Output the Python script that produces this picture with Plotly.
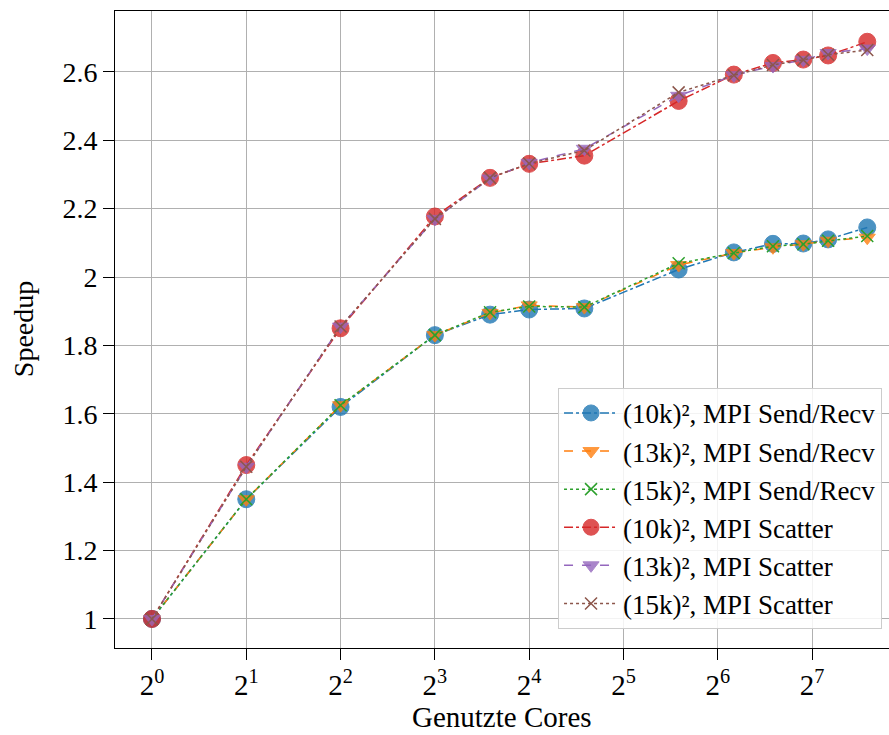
import plotly.graph_objects as go

cores = [1, 2, 4, 8, 12, 16, 24, 48, 72, 96, 120, 144, 192]

sr_10k = [1.0, 1.35, 1.62, 1.83, 1.89, 1.905, 1.908, 2.022, 2.072, 2.097, 2.098, 2.11, 2.145]
sr_13k = [1.0, 1.35, 1.625, 1.83, 1.895, 1.917, 1.912, 2.035, 2.07, 2.087, 2.096, 2.106, 2.115]
sr_15k = [1.0, 1.35, 1.625, 1.83, 1.897, 1.914, 1.912, 2.04, 2.07, 2.09, 2.096, 2.106, 2.12]
sc_10k = [1.0, 1.45, 1.85, 2.177, 2.29, 2.331, 2.355, 2.515, 2.592, 2.626, 2.636, 2.648, 2.688]
sc_13k = [1.0, 1.445, 1.855, 2.17, 2.288, 2.334, 2.375, 2.53, 2.59, 2.617, 2.635, 2.655, 2.668]
sc_15k = [1.0, 1.445, 1.855, 2.17, 2.29, 2.332, 2.37, 2.54, 2.59, 2.62, 2.635, 2.65, 2.664]

names = ["(10k)², MPI Send/Recv", "(13k)², MPI Send/Recv", "(15k)², MPI Send/Recv",
         "(10k)², MPI Scatter", "(13k)², MPI Scatter", "(15k)², MPI Scatter"]
series = [sr_10k, sr_13k, sr_15k, sc_10k, sc_13k, sc_15k]
colors = ["#1f77b4", "#ff7f0e", "#2ca02c", "#d62728", "#9467bd", "#8c564b"]
dashes = ["dashdot", "dash", "dot", "dashdot", "dash", "dot"]
symbols = ["circle", "triangle-down", "x-thin", "circle", "triangle-down", "x-thin"]
sizes = [17, 14, 12, 17, 14, 12]

xtick_vals = [1, 2, 4, 8, 16, 32, 64, 128]
xtick_text = ["2<sup>%d</sup>" % i for i in range(8)]
ytick_vals = [1, 1.2, 1.4, 1.6, 1.8, 2, 2.2, 2.4, 2.6]
ytick_text = ["1", "1.2", "1.4", "1.6", "1.8", "2", "2.2", "2.4", "2.6"]
x_title = "Genutzte Cores"
y_title = "Speedup"

FONT = "Liberation Serif"

fig = go.Figure()
for name, ys, c, d, s, sz in zip(names, series, colors, dashes, symbols, sizes):
    if s == "x-thin":
        marker = dict(symbol=s, size=sz, color=c, line=dict(color=c, width=1.5))
    else:
        marker = dict(symbol=s, size=sz, color=c, opacity=0.8,
                      line=dict(color=c, width=1))
    fig.add_trace(go.Scatter(
        x=cores, y=ys, name=name, mode="lines+markers",
        line=dict(color=c, dash=d, width=1.5),
        marker=marker,
    ))

fig.update_layout(
    width=889, height=735,
    margin=dict(l=115, r=0, t=11, b=87, autoexpand=False),
    paper_bgcolor="white", plot_bgcolor="white",
    font=dict(family=FONT, size=28, color="black"),
    legend=dict(
        x=0.991, y=0.03, xanchor="right", yanchor="bottom",
        bgcolor="rgba(255,255,255,0.85)", bordercolor="#cccccc", borderwidth=1,
        font=dict(family=FONT, size=27), tracegroupgap=0, itemwidth=54,
    ),
    xaxis=dict(
        type="log", range=[-0.118, 2.3527],
        tickvals=xtick_vals, ticktext=xtick_text,
        showgrid=True, gridcolor="#b0b0b0", gridwidth=1,
        showline=True, linecolor="black", linewidth=1, mirror=True,
        ticks="outside", ticklen=11, tickcolor="black",
        ticklabelstandoff=0,
        tickfont=dict(family=FONT, size=29),
        zeroline=False,
    ),
    yaxis=dict(
        range=[0.915, 2.778],
        tickvals=ytick_vals, ticktext=ytick_text,
        showgrid=True, gridcolor="#b0b0b0", gridwidth=1,
        showline=True, linecolor="black", linewidth=1, mirror=False,
        ticks="outside", ticklen=11, tickcolor="black",
        ticklabelstandoff=0,
        tickfont=dict(family=FONT, size=28),
        zeroline=False,
    ),
    annotations=[
        dict(text=x_title, xref="paper", yref="paper", x=0.5, y=-0.109,
             xanchor="center", yanchor="middle", showarrow=False,
             font=dict(family=FONT, size=29)),
        dict(text=y_title, xref="paper", yref="paper", x=-0.118, y=0.5,
             xanchor="center", yanchor="middle", showarrow=False, textangle=-90,
             font=dict(family=FONT, size=28)),
    ],
)

fig.write_html(
    "out.html",
    config={"displayModeBar": False},
    post_script="document.body.style.margin='0px';document.body.style.overflow='hidden';",
)
